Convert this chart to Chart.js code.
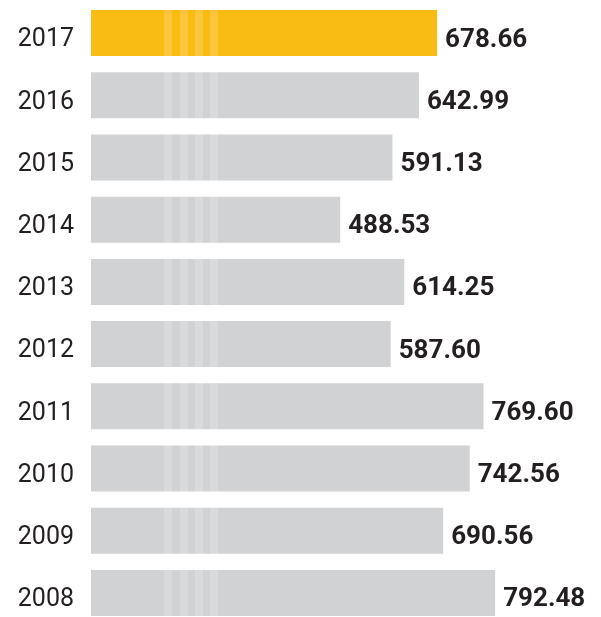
<!DOCTYPE html>
<html>
<head>
<meta charset="utf-8">
<script src="https://cdn.jsdelivr.net/npm/chart.js@4"></script>
<style>
  html, body { margin: 0; padding: 0; background: #fff; overflow: hidden; width: 601px; height: 617px; }
</style>
</head>
<body>
<canvas id="myChart" width="601" height="624"></canvas>
<script>
//my data
const years = ['2017', '2016', '2015', '2014', '2013', '2012', '2011', '2010', '2009', '2008']
const values = [678.66, 642.99, 591.13, 488.53, 614.25, 587.60, 769.60, 742.56, 690.56, 792.48]
const highlightYear = '2017'

/////////////////////////////////////////////////////////////
//striped fills for the bars
/////////////////////////////////////////////////////////////
function makeStripes(base, light) {
    const c = document.createElement('canvas')
    c.width = 601
    c.height = 4
    const g = c.getContext('2d')
    g.fillStyle = base
    g.fillRect(0, 0, c.width, c.height)
    g.fillStyle = light
    ;[164, 180, 195, 210].forEach(x => g.fillRect(x, 0, 8, c.height))
    return g.createPattern(c, 'repeat')
}
const canvas = document.getElementById('myChart')
const yellowFill = makeStripes('#f9bc15', '#fbc63b')
const greyFill = makeStripes('#d1d2d4', '#d9dadc')

// value labels to the right of each bar
const valueLabels = {
    id: 'valueLabels',
    afterDatasetsDraw(chart) {
        const ctx = chart.ctx
        const meta = chart.getDatasetMeta(0)
        ctx.save()
        ctx.font = 'bold 26px Roboto'
        ctx.fillStyle = '#231f20'
        ctx.textAlign = 'left'
        ctx.textBaseline = 'middle'
        meta.data.forEach((bar, i) => {
            ctx.fillText(values[i].toFixed(2), bar.x + 8, bar.y + 7)
        })
        ctx.restore()
    }
}

// setup
const dataChart = {
    labels: years,
    datasets: [{
        data: values,
        backgroundColor: years.map(y => y === highlightYear ? yellowFill : greyFill),
        borderWidth: 0,
        barPercentage: 0.74,
        categoryPercentage: 1,
    }]
}

// config
const config = {
    type: 'bar',
    data: dataChart,
    plugins: [valueLabels],
    options: {
        indexAxis: 'y',
        responsive: false,
        animation: false,
        layout: { padding: { top: 2, right: 0, bottom: 0, left: 0 } },
        plugins: {
            legend: { display: false },
            tooltip: { enabled: false },
        },
        scales: {
            x: {
                display: false,
                min: 0,
                max: 1000,
            },
            y: {
                grid: { display: false },
                border: { display: false },
                ticks: {
                    color: '#231f20',
                    font: { family: 'Roboto', size: 25 },
                    padding: 9,
                    labelOffset: 7,
                },
                afterFit(scale) {
                    scale.width = 91
                    // no extra room above/below for the tick labels
                    scale.paddingTop = 0
                    scale.paddingBottom = 0
                },
            }
        }
    }
}
// render
const myChart = new Chart(canvas, config)
</script>
</body>
</html>
